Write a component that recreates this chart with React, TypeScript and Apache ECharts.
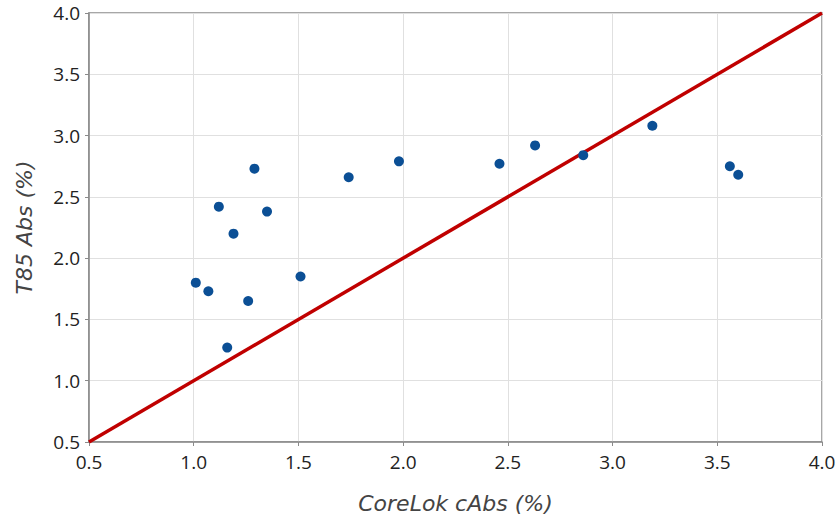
import React, { useEffect, useRef } from "react";
import * as echarts from "echarts";

const xValues = [1.01, 1.07, 1.12, 1.16, 1.19, 1.26, 1.29, 1.35, 1.51, 1.74, 1.98, 2.46, 2.63, 2.86, 3.19, 3.56, 3.6];
const yValues = [1.8, 1.73, 2.42, 1.27, 2.2, 1.65, 2.73, 2.38, 1.85, 2.66, 2.79, 2.77, 2.92, 2.84, 3.08, 2.75, 2.68];
const lineX = [0.5, 4.0];
const lineY = [0.5, 4.0];
const xAxisName = "CoreLok cAbs (%)";
const yAxisName = "T85 Abs (%)";

export default function App() {
  const ref = useRef<HTMLDivElement>(null);
  useEffect(() => {
    if (!ref.current) return;
    const chart = echarts.init(ref.current, undefined, { renderer: "svg" });
    const font = "'Open Sans', 'Noto Sans', sans-serif";
    const nameFont = "'DejaVu Sans', 'Open Sans', sans-serif";
    const axisCommon = {
      type: "value" as const,
      min: 0.5,
      max: 4.0,
      interval: 0.5,
      axisLine: { show: true, lineStyle: { color: "#8a8a8a", width: 1.5 } },
      axisTick: { show: true, inside: false, length: 4, lineStyle: { color: "#8a8a8a" } },
      splitLine: { show: true, lineStyle: { color: "#e0e0e0", width: 1 } },
      axisLabel: {
        color: "#222",
        fontSize: 19,
        fontFamily: font,
        formatter: (v: number) => v.toFixed(1),
      },
      nameLocation: "middle" as const,
      nameTextStyle: { color: "#444", fontSize: 22, fontStyle: "italic", fontFamily: nameFont },
    };
    chart.setOption({
      animation: false,
      backgroundColor: "#fff",
      grid: {
        left: 89,
        right: 17,
        top: 13,
        bottom: 76,
        show: true,
        borderColor: "#8a8a8a",
        borderWidth: 1.5,
        containLabel: false,
        outerBoundsMode: "none",
      },
      xAxis: { ...axisCommon, name: xAxisName, nameGap: 50, axisLabel: { ...axisCommon.axisLabel, margin: 10 } },
      yAxis: { ...axisCommon, name: yAxisName, nameGap: 54, axisLabel: { ...axisCommon.axisLabel, margin: 9 } },
      series: [
        {
          type: "line",
          data: lineX.map((x, i) => [x, lineY[i]]),
          symbol: "none",
          lineStyle: { color: "#c00000", width: 3.5 },
          z: 2,
        },
        {
          type: "scatter",
          data: xValues.map((x, i) => [x, yValues[i]]),
          symbol: "circle",
          symbolSize: 10,
          itemStyle: { color: "#0b4f95", opacity: 1 },
          z: 3,
        },
      ],
    });
    return () => chart.dispose();
  }, []);
  return <div ref={ref} style={{ width: 839, height: 518, position: "absolute", left: 0, top: 0 }} />;
}
